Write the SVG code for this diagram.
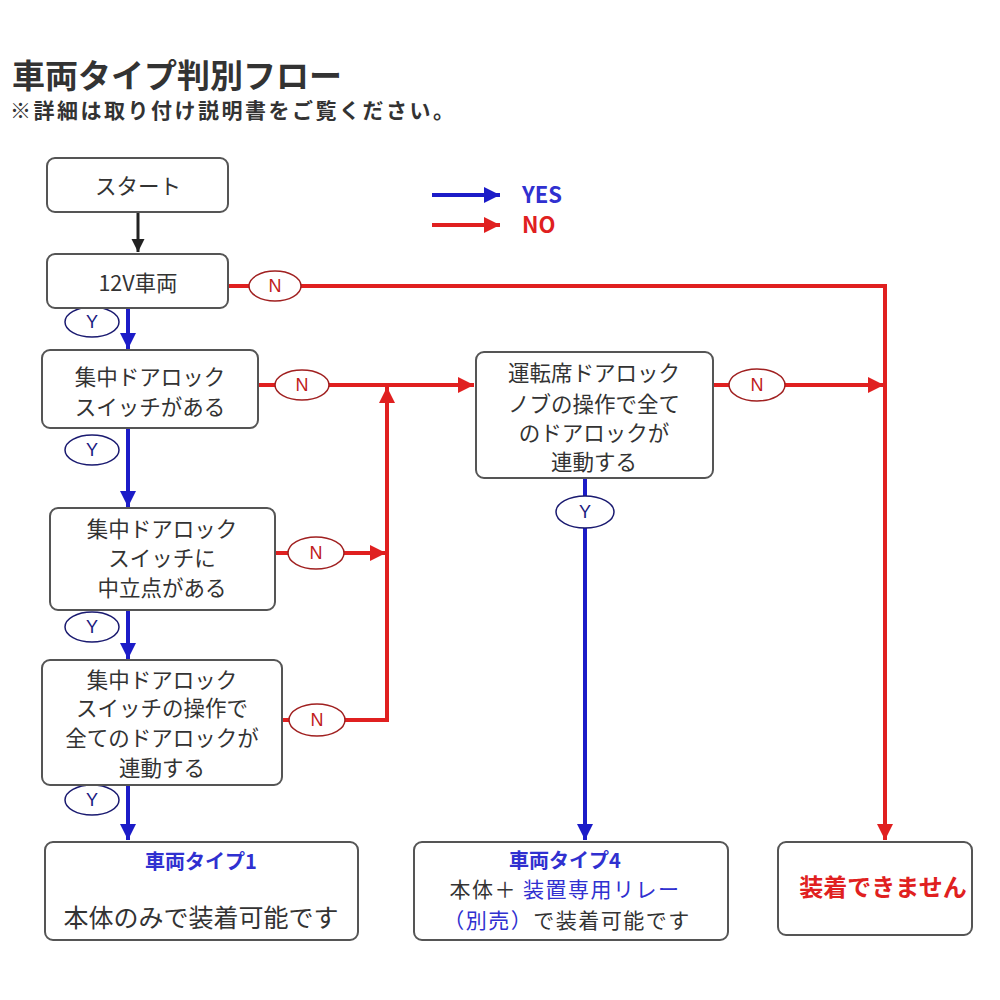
<svg xmlns="http://www.w3.org/2000/svg" width="1000" height="1000" viewBox="0 0 1000 1000">
  <style>
    text { font-family: "Noto Sans CJK JP", "Noto Sans", sans-serif; fill: #333; }
    .box { fill: #fff; stroke: #555; stroke-width: 2; }
    .lbl { font-size: 21.5px; text-anchor: middle; }
    .yes { stroke: #1c1cc8; stroke-width: 4; fill: none; }
    .no { stroke: #e02020; stroke-width: 4; fill: none; }
    .yo { fill: #fff; stroke: #1a1a70; stroke-width: 1.5; }
    .no-o { fill: #fff; stroke: #a02020; stroke-width: 1.5; }
    .yt { font-family: "Liberation Sans", sans-serif; font-size: 18px; fill: #1a1a80; text-anchor: middle; }
    .nt { font-family: "Liberation Sans", sans-serif; font-size: 18px; fill: #c02020; text-anchor: middle; }
    .blue { fill: #3030d0; }
    .red { fill: #e02020; }
  </style>
  <defs>
    <marker id="ab" viewBox="0 0 10 10" refX="10" refY="5" markerWidth="4" markerHeight="4" orient="auto" markerUnits="strokeWidth">
      <path d="M0 0 L10 5 L0 10 z" fill="#1c1cc8"/>
    </marker>
    <marker id="ar" viewBox="0 0 10 10" refX="10" refY="5" markerWidth="4" markerHeight="4" orient="auto" markerUnits="strokeWidth">
      <path d="M0 0 L10 5 L0 10 z" fill="#e02020"/>
    </marker>
    <marker id="ak" viewBox="0 0 10 10" refX="10" refY="5" markerWidth="4.5" markerHeight="4.5" orient="auto" markerUnits="strokeWidth">
      <path d="M0 0 L10 5 L0 10 z" fill="#222"/>
    </marker>
  </defs>

  <rect width="1000" height="1000" fill="#fff"/>

  <!-- heading -->
  <text x="12" y="88" font-size="33" font-weight="bold" fill="#3a3a3a">車両タイプ判別フロー</text>
  <text x="10" y="118" font-size="21" font-weight="bold" fill="#555" letter-spacing="2.5">※詳細は取り付け説明書をご覧ください。</text>

  <!-- legend -->
  <g id="legend">
    <line x1="432" y1="195" x2="500" y2="195" class="yes" marker-end="url(#ab)"/>
    <text x="522" y="203" font-family="Liberation Sans, sans-serif" font-size="22" font-weight="bold" class="blue">YES</text>
    <line x1="432" y1="225" x2="500" y2="225" class="no" marker-end="url(#ar)"/>
    <text x="522" y="233" font-family="Liberation Sans, sans-serif" font-size="22" font-weight="bold" class="red">NO</text>
  </g>

  <!-- connectors -->
  <g id="connectors">
    <line x1="138" y1="212" x2="138" y2="252" stroke="#222" stroke-width="3" marker-end="url(#ak)"/>
    <!-- yes chain -->
    <line x1="128" y1="308" x2="128" y2="349" class="yes" marker-end="url(#ab)"/>
    <line x1="128" y1="428" x2="128" y2="507" class="yes" marker-end="url(#ab)"/>
    <line x1="128" y1="610" x2="128" y2="659" class="yes" marker-end="url(#ab)"/>
    <line x1="128" y1="785" x2="128" y2="840" class="yes" marker-end="url(#ab)"/>
    <line x1="585" y1="478" x2="585" y2="840" class="yes" marker-end="url(#ab)"/>
    <!-- no paths -->
    <polyline points="228,286 885,286 885,840" class="no" marker-end="url(#ar)"/>
    <line x1="258" y1="385" x2="474" y2="385" class="no" marker-end="url(#ar)"/>
    <line x1="275" y1="553" x2="386" y2="553" class="no" marker-end="url(#ar)"/>
    <polyline points="282,720 387,720 387,387" class="no" marker-end="url(#ar)"/>
    <line x1="713" y1="385" x2="884" y2="385" class="no" marker-end="url(#ar)"/>
    <!-- Y badges -->
    <ellipse cx="92" cy="322" rx="27" ry="15" class="yo"/><text x="92" y="328" class="yt">Y</text>
    <ellipse cx="92" cy="450" rx="27" ry="15" class="yo"/><text x="92" y="456" class="yt">Y</text>
    <ellipse cx="92" cy="627" rx="27" ry="15" class="yo"/><text x="92" y="633" class="yt">Y</text>
    <ellipse cx="92" cy="800" rx="27" ry="15" class="yo"/><text x="92" y="806" class="yt">Y</text>
    <ellipse cx="585" cy="512" rx="29" ry="16" class="yo"/><text x="585" y="518" class="yt">Y</text>
    <!-- N badges -->
    <ellipse cx="275" cy="286" rx="26" ry="15" class="no-o"/><text x="275" y="292" class="nt">N</text>
    <ellipse cx="302" cy="385" rx="27" ry="15" class="no-o"/><text x="302" y="391" class="nt">N</text>
    <ellipse cx="316" cy="553" rx="28" ry="16" class="no-o"/><text x="316" y="559" class="nt">N</text>
    <ellipse cx="317" cy="720" rx="28" ry="16" class="no-o"/><text x="317" y="726" class="nt">N</text>
    <ellipse cx="757" cy="385" rx="28" ry="16" class="no-o"/><text x="757" y="391" class="nt">N</text>
  </g>

  <!-- nodes -->
  <g id="start">
    <rect x="47" y="158" width="181" height="54" rx="8" class="box"/>
    <text x="138" y="194" class="lbl">スタート</text>
  </g>
  <g id="v12">
    <rect x="47" y="254" width="181" height="54" rx="8" class="box"/>
    <text x="138" y="291" class="lbl">12V車両</text>
  </g>
  <g id="has-switch">
    <rect x="42" y="350" width="216" height="78" rx="8" class="box"/>
    <text x="150" y="385" class="lbl">集中ドアロック</text>
    <text x="150" y="415" class="lbl">スイッチがある</text>
  </g>
  <g id="neutral">
    <rect x="50" y="508" width="225" height="102" rx="8" class="box"/>
    <text x="162" y="537" class="lbl">集中ドアロック</text>
    <text x="162" y="566" class="lbl">スイッチに</text>
    <text x="162" y="596" class="lbl">中立点がある</text>
  </g>
  <g id="switch-all">
    <rect x="42" y="660" width="240" height="125" rx="8" class="box"/>
    <text x="162" y="688" class="lbl">集中ドアロック</text>
    <text x="162" y="716" class="lbl">スイッチの操作で</text>
    <text x="162" y="746" class="lbl">全てのドアロックが</text>
    <text x="162" y="776" class="lbl">連動する</text>
  </g>
  <g id="driver-knob">
    <rect x="476" y="352" width="237" height="126" rx="8" class="box"/>
    <text x="594" y="381" class="lbl">運転席ドアロック</text>
    <text x="594" y="412" class="lbl">ノブの操作で全て</text>
    <text x="594" y="441" class="lbl">のドアロックが</text>
    <text x="594" y="470" class="lbl">連動する</text>
  </g>
  <g id="type1">
    <rect x="45" y="842" width="313" height="98" rx="8" class="box"/>
    <text x="201" y="869" font-size="20" font-weight="bold" text-anchor="middle" class="blue">車両タイプ1</text>
    <text x="201" y="927" font-size="25" text-anchor="middle">本体のみで装着可能です</text>
  </g>
  <g id="type4">
    <rect x="414" y="842" width="314" height="98" rx="8" class="box"/>
    <text x="565" y="868" font-size="20" font-weight="bold" text-anchor="middle" class="blue">車両タイプ4</text>
    <text x="565" y="897" font-size="21" letter-spacing="1.5" text-anchor="middle">本体＋ <tspan class="blue">装置専用リレー</tspan></text>
    <text x="567" y="928" font-size="21" letter-spacing="1.5" text-anchor="middle"><tspan class="blue">（別売）</tspan>で装着可能です</text>
  </g>
  <g id="not-possible">
    <rect x="778" y="842" width="194" height="93" rx="8" class="box"/>
    <text x="883" y="896" font-size="24" font-weight="bold" text-anchor="middle" class="red">装着できません</text>
  </g>
</svg>
